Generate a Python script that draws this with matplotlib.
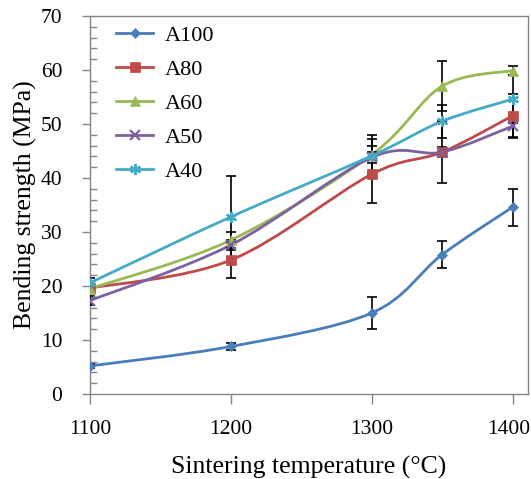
import numpy as np
import matplotlib
matplotlib.use("Agg")
import matplotlib.pyplot as plt
from matplotlib.path import Path
from matplotlib.patches import PathPatch
from matplotlib.ticker import MultipleLocator
from matplotlib.lines import Line2D
import matplotlib.transforms as mtransforms

temps = [1100, 1200, 1300, 1350, 1400]
series_names = ["A100", "A80", "A60", "A50", "A40"]
A100 = [5.2, 8.8, 15.0, 25.8, 34.6]
A80 = [19.6, 24.8, 40.7, 44.8, 51.5]
A60 = [19.5, 28.5, 44.3, 57.0, 59.9]
A50 = [17.3, 27.6, 43.8, 44.8, 49.6]
A40 = [20.6, 32.8, 44.1, 50.5, 54.6]
A100_err = [0.4, 0.6, 3.0, 2.5, 3.4]
A80_err = [0.6, 3.4, 5.3, 5.7, 4.0]
A60_err = [0.5, 1.5, 3.6, 4.6, 0.9]
A50_err = [0.8, 1.0, 1.0, 1.0, 2.0]
A40_err = [0.8, 7.6, 3.2, 3.0, 4.5]

colors = ["#4A7EBB", "#BE4B48", "#98B954", "#7D60A0", "#46AAC5"]
markers = ["D", "s", "^", "x", (6, 2, 0)]
msizes = [5, 7, 7.5, 7.5, 8]

plt.rcParams['font.family'] = ['Liberation Serif', 'DejaVu Serif']
FS_TICK = 15.5
FS_LEG = 16
FS_LAB = 18.5

fig = plt.figure(figsize=(5.31, 4.79), dpi=100)
W, H = 531, 479
ax = fig.add_axes([90 / W, 1 - 394 / H, 438 / W, 378 / H])


def smooth_path(x, y):
    x = np.asarray(x, float)
    y = np.asarray(y, float)
    P = np.column_stack([x, y])
    n = len(P)
    verts = [P[0]]
    codes = [Path.MOVETO]
    for i in range(n - 1):
        p_prev = P[i - 1] if i > 0 else P[i]
        p_next2 = P[i + 2] if i + 2 < n else P[i + 1]
        c1 = P[i] + (P[i + 1] - p_prev) / 6.0
        c2 = P[i + 1] - (p_next2 - P[i]) / 6.0
        verts += [c1, c2, P[i + 1]]
        codes += [Path.CURVE4] * 3
    return Path(verts, codes)


data = [A100, A80, A60, A50, A40]
errs = [A100_err, A80_err, A60_err, A50_err, A40_err]


def mew_for(m):
    return 1.6 if (m == "x" or isinstance(m, tuple)) else 0.5


for name, vals, err, c, m, ms in zip(series_names, data, errs, colors, markers, msizes):
    patch = PathPatch(smooth_path(temps, vals), facecolor='none', edgecolor=c,
                      lw=2.0, zorder=2)
    ax.add_patch(patch)
    ax.errorbar(temps, vals, yerr=err, fmt='none', ecolor='black', elinewidth=1.2,
                capsize=3.5, capthick=1.2, zorder=3)
    ax.plot(temps, vals, linestyle='none', marker=m, color=c, markersize=ms,
            markeredgewidth=mew_for(m), zorder=4)

handles = []
for name, c, m, ms in zip(series_names, colors, markers, msizes):
    handles.append(Line2D([], [], color=c, lw=2.0, marker=m, markersize=ms,
                          markeredgewidth=mew_for(m)))
leg = ax.legend(handles, series_names, loc='upper left',
                bbox_to_anchor=(0.06, 0.975), frameon=False, fontsize=FS_LEG,
                handlelength=1.65, handletextpad=0.55, labelspacing=0.6,
                borderpad=0, borderaxespad=0)

ax.set_xlim(1100, 1411)
ax.set_ylim(0, 70)
ax.set_xticks([1100, 1200, 1300, 1400])
ax.yaxis.set_major_locator(MultipleLocator(10))
ax.yaxis.set_minor_locator(MultipleLocator(2))

gray = "#868686"
for s in ax.spines.values():
    s.set_color(gray)
    s.set_linewidth(1.0)

ax.tick_params(axis='x', which='major', direction='out', length=7, width=1.0,
               color=gray, pad=12, labelsize=FS_TICK)
ax.tick_params(axis='y', which='major', direction='out', length=6, width=1.0,
               color=gray, pad=14, labelsize=FS_TICK)
ax.tick_params(axis='y', which='minor', direction='in', length=5, width=1.0,
               color=gray)

ax.set_xlabel("Sintering temperature (\u00b0C)", fontsize=FS_LAB, labelpad=12)
ax.set_ylabel("Bending strength (MPa)", fontsize=FS_LAB, labelpad=2.5)

# nudge the last x tick label slightly left so it stays inside the image
fig.canvas.draw()
last = ax.get_xticklabels()[-1]
last.set_transform(last.get_transform() +
                   mtransforms.ScaledTranslation(-4 / 100, 0, fig.dpi_scale_trans))

fig.savefig("out.png", dpi=100)
